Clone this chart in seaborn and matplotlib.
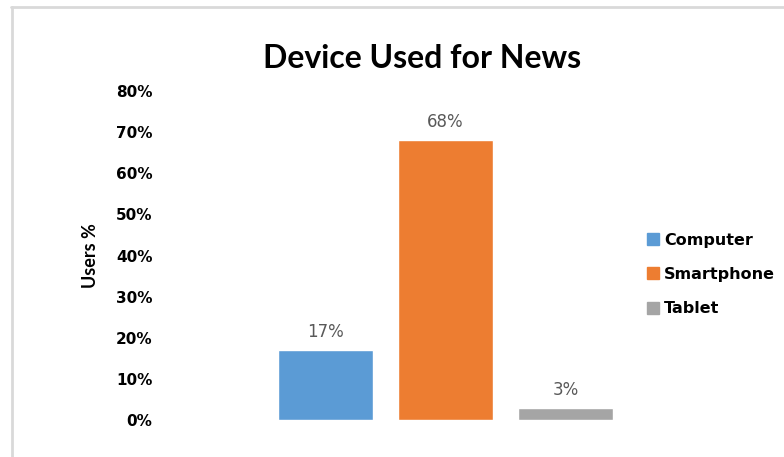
import matplotlib
matplotlib.use("Agg")
import matplotlib.pyplot as plt
import seaborn as sns
import pandas as pd
from matplotlib.lines import Line2D
from matplotlib.ticker import PercentFormatter

title = "Device Used for News"
devices = ["Computer", "Smartphone", "Tablet"]
values = [0.17, 0.68, 0.03]
colors = ["#5B9BD5", "#ED7D31", "#A5A5A5"]
yticks = [0, 0.1, 0.2, 0.3, 0.4, 0.5, 0.6, 0.7, 0.8]
ylabel = "Users %"

sns.set_theme(style="white")
plt.rcParams["font.family"] = ["DejaVu Sans"]

W, H = 784, 457
fig = plt.figure(figsize=(W / 100, H / 100), dpi=100)
ax_left, ax_right, ax_top, ax_bottom = 165, 620, 91, 420
ax = fig.add_axes([ax_left / W, 1 - ax_bottom / H, (ax_right - ax_left) / W, (ax_bottom - ax_top) / H])

df = pd.DataFrame({"device": devices, "value": values})
sns.barplot(data=df, x="device", y="value", hue="device", palette=colors,
            width=0.79, dodge=False, legend=False, ax=ax, saturation=1)

# x limits so the bars land where they are in the reference
unit = 120.0
c0 = 325.5
ax.set_xlim(-(c0 - ax_left) / unit, 2 + (ax_right - (c0 + 2 * unit)) / unit)
ax.set_ylim(0, 0.8)
ax.set_yticks(yticks)
ax.yaxis.set_major_formatter(PercentFormatter(1.0, decimals=0))
for lab in ax.get_yticklabels():
    lab.set_fontweight("bold")
    lab.set_fontsize(11)
    lab.set_color("#000000")
ax.tick_params(axis="y", length=0, pad=9)
ax.set_xticks([])
ax.set_xlabel("")
ax.set_ylabel(ylabel, family=["Lato", "DejaVu Sans"], fontweight="bold", fontsize=13,
              labelpad=12, color="#000000")
for s in ax.spines.values():
    s.set_visible(False)

for i, v in enumerate(values):
    ax.annotate(f"{round(v * 100)}%", xy=(i, v), xytext=(0, 6.5), textcoords="offset points",
                ha="center", va="bottom", fontsize=12, color="#595959")

fig.text(422 / W, 1 - 59 / H, title, ha="center", va="center",
         family=["Lato", "DejaVu Sans"], fontweight="bold", fontsize=23, color="#000000")

handles = [Line2D([0], [0], marker="s", linestyle="none", markersize=8,
                  markerfacecolor=c, markeredgecolor=c) for c in colors]
leg = fig.legend(handles, devices, loc="center left", bbox_to_anchor=(632 / W, 1 - 274.5 / H),
                 frameon=False, handlelength=0.8, handletextpad=0.3, labelspacing=1.2,
                 prop={"family": "DejaVu Sans", "weight": "bold", "size": 11.5}, labelcolor="#000000")

# light gray frame lines (top and left) like the reference
fig.add_artist(Line2D([11 / W, 1], [1 - 6.5 / H, 1 - 6.5 / H], color="#D9D9D9", lw=2, transform=fig.transFigure))
fig.add_artist(Line2D([11.5 / W, 11.5 / W], [0, 1 - 6.5 / H], color="#D9D9D9", lw=2, transform=fig.transFigure))

fig.savefig("out.png", dpi=100)
